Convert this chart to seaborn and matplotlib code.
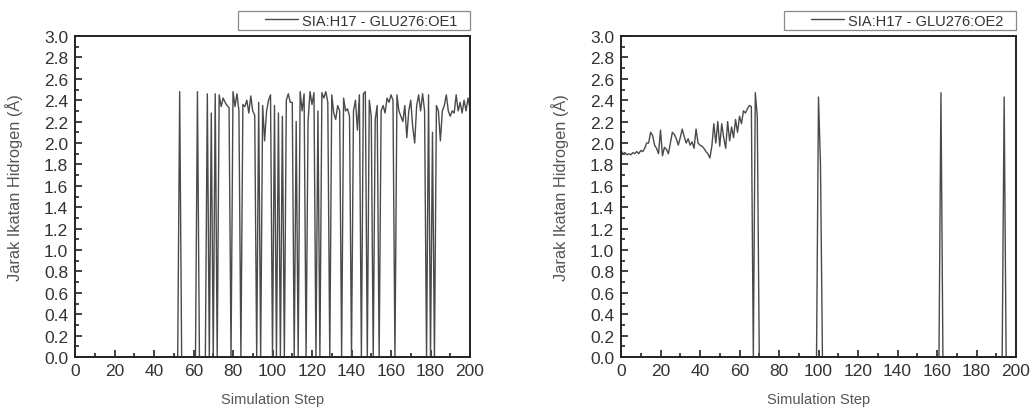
import matplotlib
matplotlib.use("Agg")
import matplotlib.pyplot as plt
from matplotlib.patches import Rectangle
from matplotlib.ticker import MultipleLocator, FormatStrFormatter
import pandas as pd
import seaborn as sns

# Simulation steps 0..200
steps = list(range(201))

# Hydrogen-bond distance SIA:H17 - GLU276:OE1 (Angstrom)
oe1 = (
    [0.0] * 50
    + [0, 0, 0, 2.48, 0, 0, 0, 0, 0, 0]                                  # 50-59
    + [0, 0, 2.48, 0, 0, 0, 0, 2.46, 0, 2.28]                            # 60-69
    + [0, 2.46, 0, 2.45, 2.34, 2.42, 2.38, 2.35, 2.33, 0]                # 70-79
    + [2.48, 2.34, 2.46, 2.30, 0, 2.36, 2.34, 2.40, 2.28, 2.44]          # 80-89
    + [2.30, 2.26, 0, 2.38, 0, 2.35, 2.02, 2.30, 2.40, 2.45]             # 90-99
    + [0, 2.35, 0, 2.28, 0, 2.25, 0, 2.40, 2.46, 2.38]                   # 100-109
    + [2.38, 0, 2.20, 0, 2.48, 2.30, 2.46, 0, 2.20, 2.48]                # 110-119
    + [2.36, 2.47, 0, 2.30, 0, 2.47, 2.42, 2.48, 2.38, 0]                # 120-129
    + [2.45, 2.28, 2.22, 2.35, 2.30, 0, 2.42, 2.30, 2.32, 2.25]          # 130-139
    + [0, 2.30, 2.40, 2.12, 2.45, 0, 2.46, 2.48, 0, 2.40]                # 140-149
    + [2.25, 0, 2.22, 2.35, 0, 2.30, 2.35, 2.28, 2.42, 2.38]             # 150-159
    + [2.45, 2.40, 0, 2.45, 2.30, 2.25, 2.20, 2.35, 2.05, 2.30]          # 160-169
    + [2.40, 2.15, 2.00, 2.35, 2.45, 2.30, 2.46, 2.30, 0, 2.45]          # 170-179
    + [0, 2.10, 0, 2.35, 2.30, 2.02, 2.30, 2.35, 2.45, 2.30]             # 180-189
    + [2.25, 2.30, 2.28, 2.45, 2.30, 2.38, 2.28, 2.40, 2.30, 2.42]       # 190-199
    + [2.32]                                                             # 200
)

# Hydrogen-bond distance SIA:H17 - GLU276:OE2 (Angstrom)
oe2 = (
    [1.93, 1.90, 1.91, 1.89, 1.90, 1.89, 1.91, 1.90, 1.92, 1.90]         # 0-9
    + [1.93, 1.92, 1.95, 2.00, 2.00, 2.10, 2.07, 1.98, 1.95, 1.90]       # 10-19
    + [2.12, 1.88, 1.96, 1.94, 1.90, 2.00, 2.10, 2.08, 2.04, 1.98]       # 20-29
    + [2.05, 2.13, 2.06, 2.00, 2.04, 1.98, 2.01, 1.95, 2.13, 2.00]       # 30-39
    + [1.98, 1.97, 1.95, 1.92, 1.90, 1.86, 1.97, 2.18, 2.00, 2.20]       # 40-49
    + [1.97, 2.18, 2.05, 1.95, 2.20, 2.02, 2.15, 2.05, 2.22, 2.10]       # 50-59
    + [2.25, 2.18, 2.30, 2.28, 2.32, 2.35, 2.34, 0, 2.47, 2.25]          # 60-69
    + [0.0] * 30                                                         # 70-99
    + [2.43, 1.80]                                                       # 100-101
    + [0.0] * 60                                                         # 102-161
    + [2.47]                                                             # 162
    + [0.0] * 31                                                         # 163-193
    + [2.43]                                                             # 194
    + [0.0] * 6                                                          # 195-200
)

series_labels = ["SIA:H17 - GLU276:OE1", "SIA:H17 - GLU276:OE2"]
x_label = "Simulation Step"
y_label = "Jarak Ikatan Hidrogen (Å)"

sns.set_theme(style="white")
plt.rcParams["font.family"] = ["Liberation Sans", "DejaVu Sans"]

W, H = 1036, 410
fig = plt.figure(figsize=(W / 100, H / 100), dpi=100)
fig.patch.set_facecolor("white")

# panel boxes in pixels: (left, top, width, height)
panels = [(75, 37, 395, 321), (621, 37, 395, 321)]

line_color = "#4a4a4a"
text_color = "#333333"
label_color = "#555555"
legend_fs = 10.5

for (px, py, pw, ph), values, label in zip(panels, [oe1, oe2], series_labels):
    ax = fig.add_axes([px / W, 1 - (py + ph) / H, pw / W, ph / H])
    ax.set_facecolor("none")
    df = pd.DataFrame({"step": steps, "distance": values})
    sns.lineplot(data=df, x="step", y="distance", ax=ax, color=line_color,
                 linewidth=1.0, label=label, estimator=None)
    ax.set_xlim(0, 200)
    ax.set_ylim(0, 3.0)
    ax.xaxis.set_major_locator(MultipleLocator(20))
    ax.xaxis.set_minor_locator(MultipleLocator(10))
    ax.yaxis.set_major_locator(MultipleLocator(0.2))
    ax.yaxis.set_minor_locator(MultipleLocator(0.1))
    ax.yaxis.set_major_formatter(FormatStrFormatter("%.1f"))
    ax.tick_params(which="both", direction="in", bottom=True, left=True,
                   top=False, right=False, colors="#222222",
                   labelcolor=text_color, labelsize=12.5, width=1.2)
    ax.tick_params(axis="y", which="major", length=5, pad=5)
    ax.tick_params(axis="x", which="major", length=5, pad=4)
    ax.tick_params(which="minor", length=3)
    for sp in ax.spines.values():
        sp.set_visible(True)
        sp.set_color("#222222")
        sp.set_linewidth(1.4)
    ax.set_xlabel(x_label, fontsize=10.5, color=label_color)
    ax.set_ylabel(y_label, fontsize=11.8, color=label_color)
    ax.xaxis.set_label_coords(0.5, -0.108)
    ax.yaxis.set_label_coords(-0.131, 0.53)

    # legend above the panel, in a plain rectangular box
    handles, labels = ax.get_legend_handles_labels()
    leg = ax.legend(handles, labels, loc="center left",
                    bbox_to_anchor=((px + pw - 205) / W, 1 - 21.5 / H),
                    bbox_transform=fig.transFigure, frameon=False,
                    fontsize=legend_fs, handlelength=2.25, handletextpad=0.3,
                    borderpad=0.0, borderaxespad=0.0)
    for t in leg.get_texts():
        t.set_color(text_color)
    fig.add_artist(Rectangle(((px + pw - 232) / W, 1 - 31 / H), 232 / W, 19 / H,
                             transform=fig.transFigure, fill=False,
                             edgecolor="#8a8a8a", linewidth=0.9))

fig.savefig("out.png", dpi=100, facecolor="white")
